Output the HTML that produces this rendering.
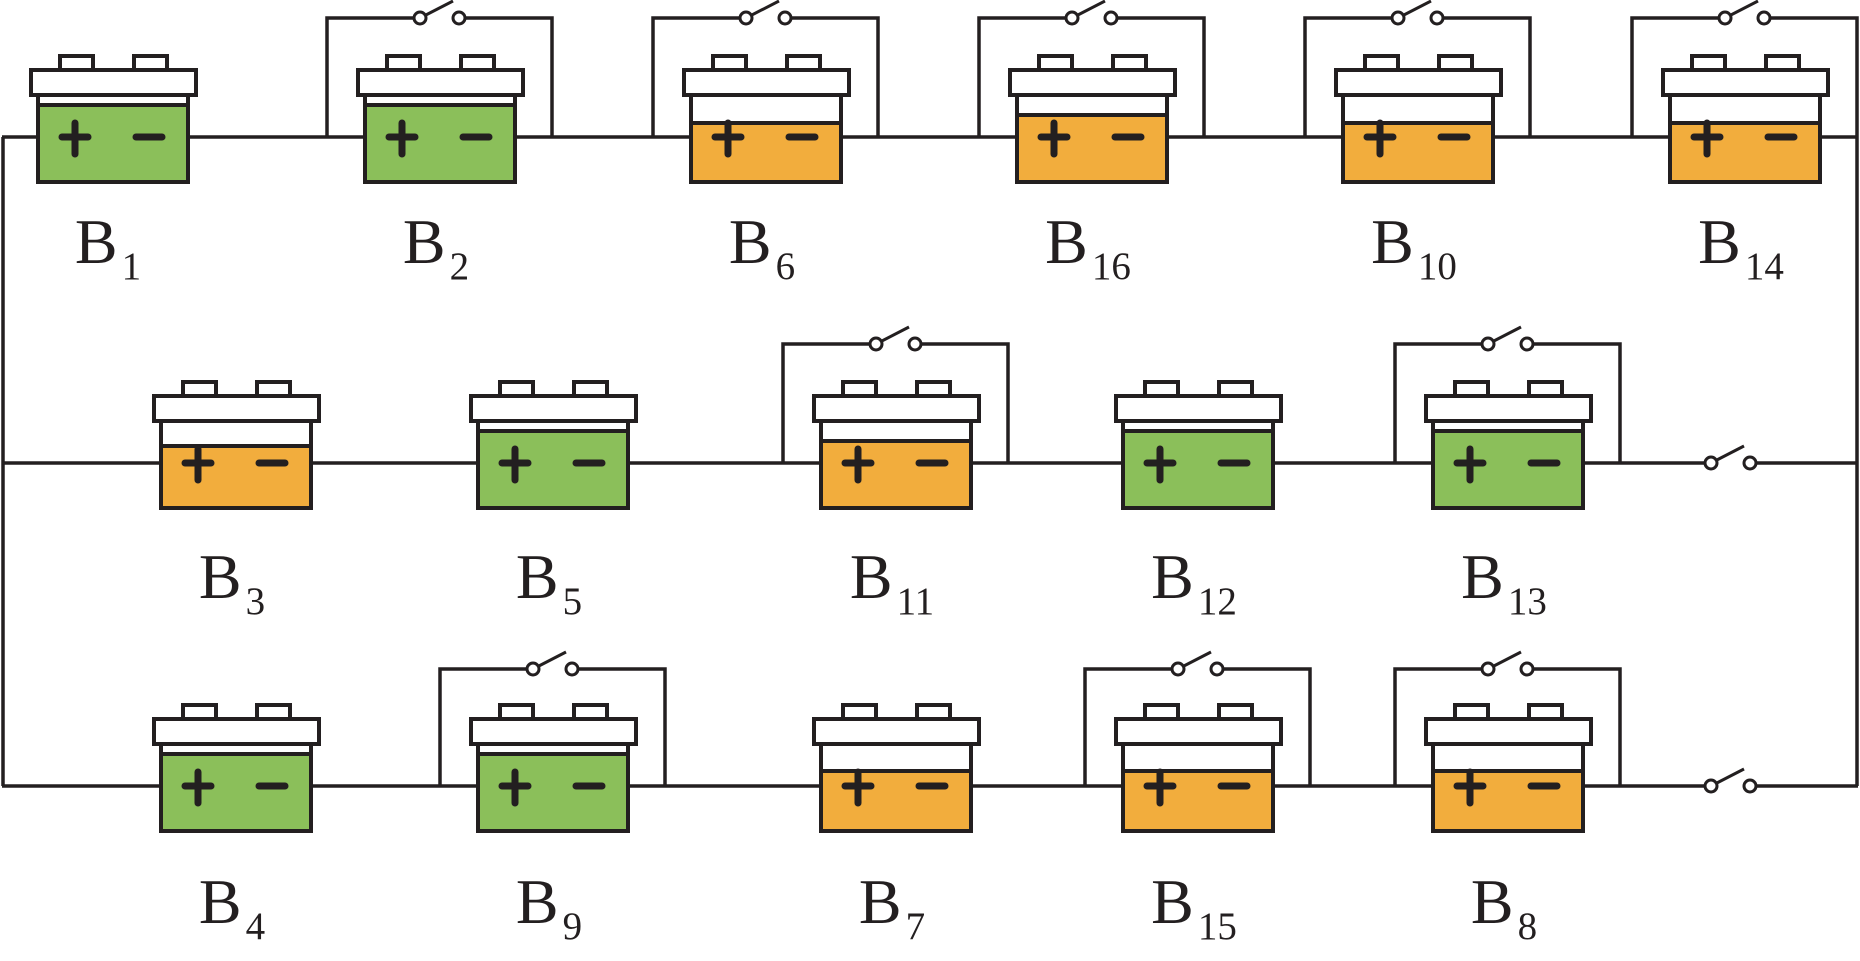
<!DOCTYPE html>
<html><head><meta charset="utf-8"><style>
html,body{margin:0;padding:0;background:#fff;}
svg{display:block;}
text{font-family:"Liberation Serif",serif;fill:#231f20;}
</style></head><body>
<svg width="1860" height="961" viewBox="0 0 1860 961" xmlns="http://www.w3.org/2000/svg">
<defs>
<g id="bat" stroke="#231f20" stroke-width="4">
  <rect x="22" y="-81" width="33" height="14" fill="#fff"/>
  <rect x="96" y="-81" width="33" height="14" fill="#fff"/>
  <rect x="-7" y="-67" width="165" height="25" fill="#fff"/>
</g>
<g id="outline" fill="none" stroke="#231f20" stroke-width="4">
  <rect x="0" y="-42" width="150" height="87"/>
</g>
<g id="pm" stroke="#231f20" stroke-width="7" stroke-linecap="round">
  <line x1="24" y1="0" x2="50" y2="0"/><line x1="37" y1="-14" x2="37" y2="17"/>
  <line x1="98" y1="0" x2="124" y2="0"/>
</g>
<g id="sw" stroke="#231f20" stroke-width="3">
  <line x1="0" y1="0" x2="33" y2="-17"/>
  <circle cx="0" cy="0" r="6" fill="#fff"/>
  <circle cx="39" cy="0" r="6" fill="#fff"/>
</g>
</defs>
<g stroke="#231f20" stroke-width="3.5" fill="none">
  <line x1="3" y1="137" x2="3" y2="786"/>
  <line x1="1857" y1="137" x2="1857" y2="786"/>
  <line x1="2" y1="137" x2="1858" y2="137"/>
  <line x1="2" y1="463" x2="1705" y2="463"/>
  <line x1="1756" y1="463" x2="1858" y2="463"/>
  <line x1="2" y1="786" x2="1705" y2="786"/>
  <line x1="1756" y1="786" x2="1858" y2="786"/>
  <path d="M327 137V18H414M465 18H552V137"/>
  <path d="M653 137V18H740M791 18H878V137"/>
  <path d="M979 137V18H1066M1117 18H1204V137"/>
  <path d="M1305 137V18H1392M1443 18H1530V137"/>
  <path d="M1632 137V18H1719M1770 18H1857V137"/>
  <path d="M783 463V344H870M921 344H1008V463"/>
  <path d="M1395 463V344H1482M1533 344H1620V463"/>
  <path d="M440 786V669H527M578 669H665V786"/>
  <path d="M1085 786V669H1172M1223 669H1310V786"/>
  <path d="M1395 786V669H1482M1533 669H1620V786"/>
</g>
<use href="#sw" x="420" y="18"/><use href="#sw" x="746" y="18"/><use href="#sw" x="1072" y="18"/>
<use href="#sw" x="1398" y="18"/><use href="#sw" x="1725" y="18"/>
<use href="#sw" x="876" y="344"/><use href="#sw" x="1488" y="344"/>
<use href="#sw" x="533" y="669"/><use href="#sw" x="1178" y="669"/><use href="#sw" x="1488" y="669"/>
<use href="#sw" x="1711" y="463"/><use href="#sw" x="1711" y="786"/>

<g transform="translate(38,137)"><rect x="0" y="-42" width="150" height="87" fill="#fff"/><rect x="0" y="-32" width="150" height="77" fill="#8bbf5a" stroke="#231f20" stroke-width="4"/><use href="#outline"/><use href="#bat"/><use href="#pm"/></g>
<g transform="translate(365,137)"><rect x="0" y="-42" width="150" height="87" fill="#fff"/><rect x="0" y="-32" width="150" height="77" fill="#8bbf5a" stroke="#231f20" stroke-width="4"/><use href="#outline"/><use href="#bat"/><use href="#pm"/></g>
<g transform="translate(691,137)"><rect x="0" y="-42" width="150" height="87" fill="#fff"/><rect x="0" y="-14" width="150" height="59" fill="#f2ad3d" stroke="#231f20" stroke-width="4"/><use href="#outline"/><use href="#bat"/><use href="#pm"/></g>
<g transform="translate(1017,137)"><rect x="0" y="-42" width="150" height="87" fill="#fff"/><rect x="0" y="-22" width="150" height="67" fill="#f2ad3d" stroke="#231f20" stroke-width="4"/><use href="#outline"/><use href="#bat"/><use href="#pm"/></g>
<g transform="translate(1343,137)"><rect x="0" y="-42" width="150" height="87" fill="#fff"/><rect x="0" y="-14" width="150" height="59" fill="#f2ad3d" stroke="#231f20" stroke-width="4"/><use href="#outline"/><use href="#bat"/><use href="#pm"/></g>
<g transform="translate(1670,137)"><rect x="0" y="-42" width="150" height="87" fill="#fff"/><rect x="0" y="-14" width="150" height="59" fill="#f2ad3d" stroke="#231f20" stroke-width="4"/><use href="#outline"/><use href="#bat"/><use href="#pm"/></g>
<g transform="translate(161,463)"><rect x="0" y="-42" width="150" height="87" fill="#fff"/><rect x="0" y="-17" width="150" height="62" fill="#f2ad3d" stroke="#231f20" stroke-width="4"/><use href="#outline"/><use href="#bat"/><use href="#pm"/></g>
<g transform="translate(478,463)"><rect x="0" y="-42" width="150" height="87" fill="#fff"/><rect x="0" y="-32" width="150" height="77" fill="#8bbf5a" stroke="#231f20" stroke-width="4"/><use href="#outline"/><use href="#bat"/><use href="#pm"/></g>
<g transform="translate(821,463)"><rect x="0" y="-42" width="150" height="87" fill="#fff"/><rect x="0" y="-22" width="150" height="67" fill="#f2ad3d" stroke="#231f20" stroke-width="4"/><use href="#outline"/><use href="#bat"/><use href="#pm"/></g>
<g transform="translate(1123,463)"><rect x="0" y="-42" width="150" height="87" fill="#fff"/><rect x="0" y="-32" width="150" height="77" fill="#8bbf5a" stroke="#231f20" stroke-width="4"/><use href="#outline"/><use href="#bat"/><use href="#pm"/></g>
<g transform="translate(1433,463)"><rect x="0" y="-42" width="150" height="87" fill="#fff"/><rect x="0" y="-32" width="150" height="77" fill="#8bbf5a" stroke="#231f20" stroke-width="4"/><use href="#outline"/><use href="#bat"/><use href="#pm"/></g>
<g transform="translate(161,786)"><rect x="0" y="-42" width="150" height="87" fill="#fff"/><rect x="0" y="-32" width="150" height="77" fill="#8bbf5a" stroke="#231f20" stroke-width="4"/><use href="#outline"/><use href="#bat"/><use href="#pm"/></g>
<g transform="translate(478,786)"><rect x="0" y="-42" width="150" height="87" fill="#fff"/><rect x="0" y="-32" width="150" height="77" fill="#8bbf5a" stroke="#231f20" stroke-width="4"/><use href="#outline"/><use href="#bat"/><use href="#pm"/></g>
<g transform="translate(821,786)"><rect x="0" y="-42" width="150" height="87" fill="#fff"/><rect x="0" y="-15" width="150" height="60" fill="#f2ad3d" stroke="#231f20" stroke-width="4"/><use href="#outline"/><use href="#bat"/><use href="#pm"/></g>
<g transform="translate(1123,786)"><rect x="0" y="-42" width="150" height="87" fill="#fff"/><rect x="0" y="-15" width="150" height="60" fill="#f2ad3d" stroke="#231f20" stroke-width="4"/><use href="#outline"/><use href="#bat"/><use href="#pm"/></g>
<g transform="translate(1433,786)"><rect x="0" y="-42" width="150" height="87" fill="#fff"/><rect x="0" y="-15" width="150" height="60" fill="#f2ad3d" stroke="#231f20" stroke-width="4"/><use href="#outline"/><use href="#bat"/><use href="#pm"/></g>

<g font-size="64" text-anchor="middle">
<text x="108" y="263">B<tspan font-size="39" dx="4" dy="16">1</tspan></text>
<text x="436" y="263">B<tspan font-size="39" dx="4" dy="16">2</tspan></text>
<text x="762" y="263">B<tspan font-size="39" dx="4" dy="16">6</tspan></text>
<text x="1088" y="263">B<tspan font-size="39" dx="4" dy="16">16</tspan></text>
<text x="1414" y="263">B<tspan font-size="39" dx="4" dy="16">10</tspan></text>
<text x="1741" y="263">B<tspan font-size="39" dx="4" dy="16">14</tspan></text>
<text x="232" y="598">B<tspan font-size="39" dx="4" dy="16">3</tspan></text>
<text x="549" y="598">B<tspan font-size="39" dx="4" dy="16">5</tspan></text>
<text x="892" y="598">B<tspan font-size="39" dx="4" dy="16">11</tspan></text>
<text x="1194" y="598">B<tspan font-size="39" dx="4" dy="16">12</tspan></text>
<text x="1504" y="598">B<tspan font-size="39" dx="4" dy="16">13</tspan></text>
<text x="232" y="923">B<tspan font-size="39" dx="4" dy="16">4</tspan></text>
<text x="549" y="923">B<tspan font-size="39" dx="4" dy="16">9</tspan></text>
<text x="892" y="923">B<tspan font-size="39" dx="4" dy="16">7</tspan></text>
<text x="1194" y="923">B<tspan font-size="39" dx="4" dy="16">15</tspan></text>
<text x="1504" y="923">B<tspan font-size="39" dx="4" dy="16">8</tspan></text>
</g>
</svg>
</body></html>
